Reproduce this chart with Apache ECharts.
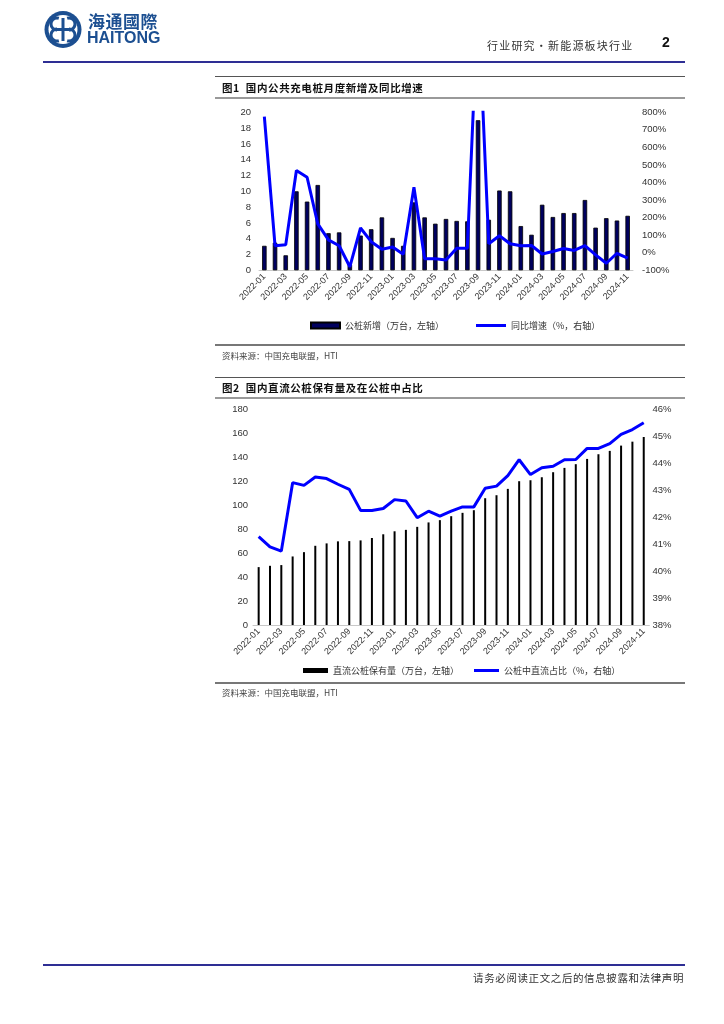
<!DOCTYPE html>
<html>
<head>
<meta charset="utf-8">
<script src="https://cdn.jsdelivr.net/npm/echarts@6/dist/echarts.min.js"></script>
<style>
  html,body{margin:0;padding:0;background:#fff;}
  #page{position:relative;width:724px;height:1024px;overflow:hidden;background:#fff;}
  #chart{position:absolute;left:0;top:0;width:724px;height:1024px;}
  .t{position:absolute;white-space:nowrap;font-family:"Noto Sans CJK SC","Noto Sans",sans-serif;color:#222;}
  .ln{position:absolute;}
</style>
</head>
<body>
<div id="page">
  <div id="chart"></div>
  <div class="t" style="left:88px;top:8px;font-size:17px;font-weight:bold;color:#1c4f91;letter-spacing:0.5px;">海通國際</div>
  <div class="t" style="left:87px;top:29px;font-size:16px;font-weight:bold;color:#1c4f91;font-family:'Liberation Sans',Arial,sans-serif;">HAITONG</div>
  <div class="t" style="left:487px;top:37px;font-size:11px;letter-spacing:1.2px;color:#333;">行业研究•新能源板块行业</div>
  <div class="t" style="left:662px;top:34px;font-size:14px;font-weight:bold;color:#111;font-family:'Liberation Sans',Arial,sans-serif;">2</div>
  <div class="ln" style="left:43px;top:61px;width:642px;height:2px;background:#2e2e94;"></div>

  <div class="ln" style="left:215px;top:76px;width:470px;height:1px;background:#555;"></div>
  <div class="t" style="left:222px;top:80px;font-size:10.5px;font-weight:bold;letter-spacing:0.6px;color:#111;">图1&nbsp;&nbsp;国内公共充电桩月度新增及同比增速</div>
  <div class="ln" style="left:215px;top:97px;width:470px;height:2px;background:#999;"></div>
  <div class="ln" style="left:215px;top:344px;width:470px;height:2px;background:#777;"></div>
  <div class="t" style="left:222px;top:349px;font-size:8.5px;color:#444;">资料来源：中国充电联盟，HTI</div>

  <div class="ln" style="left:215px;top:377px;width:470px;height:1px;background:#555;"></div>
  <div class="t" style="left:222px;top:380px;font-size:10.5px;font-weight:bold;letter-spacing:0.6px;color:#111;">图2&nbsp;&nbsp;国内直流公桩保有量及在公桩中占比</div>
  <div class="ln" style="left:215px;top:397px;width:470px;height:2px;background:#999;"></div>
  <div class="ln" style="left:215px;top:682px;width:470px;height:2px;background:#777;"></div>
  <div class="t" style="left:222px;top:686px;font-size:8.5px;color:#444;">资料来源：中国充电联盟，HTI</div>

  <div class="ln" style="left:43px;top:964px;width:642px;height:2px;background:#2e2e94;"></div>
  <div class="t" style="right:40px;top:970px;font-size:10.5px;letter-spacing:0.6px;color:#333;">请务必阅读正文之后的信息披露和法律声明</div>
</div>
<script>
// ---- Chart 1 data ----
const months = ["2022-01","2022-02","2022-03","2022-04","2022-05","2022-06","2022-07","2022-08","2022-09","2022-10","2022-11","2022-12",
  "2023-01","2023-02","2023-03","2023-04","2023-05","2023-06","2023-07","2023-08","2023-09","2023-10","2023-11","2023-12",
  "2024-01","2024-02","2024-03","2024-04","2024-05","2024-06","2024-07","2024-08","2024-09","2024-10","2024-11"];
const newPublicPiles = [3.1,3.5,1.9,10.0,8.7,10.8,4.7,4.8,0.7,4.4,5.2,6.7,
  4.1,3.1,8.6,6.7,5.9,6.5,6.25,6.2,19.0,6.4,10.1,10.0,
  5.6,4.5,8.3,6.75,7.25,7.25,8.9,5.4,6.6,6.3,6.9];
const yoyGrowth = [775,40,45,468,430,164,73,40,-80,141,63,20,
  33,-9,373,-34,-34,-41,26,26,1450,51,97,51,
  40,41,-7,7,24,13,40,-12,-60,-3,-31];
const leftTicks1 = {min:0, max:20, interval:2};
const rightTicks1 = {min:-100, max:800, interval:100};

// ---- Chart 2 data ----
const dcPileStock = [48.3,49.4,50.0,57.2,60.8,66.1,68.1,69.8,70.0,70.6,72.6,75.7,
  78.2,79.4,81.9,85.6,87.5,90.8,93.6,95.8,105.8,108.3,113.6,120.0,
  120.8,123.3,127.5,131.1,134.2,138.6,142.5,145.3,149.7,153.0,156.9];
const dcShare = [41.28,40.9,40.74,43.28,43.18,43.49,43.43,43.22,43.03,42.25,42.25,42.32,
  42.65,42.6,41.98,42.22,42.04,42.22,42.38,42.38,43.07,43.15,43.54,44.13,
  43.58,43.83,43.89,44.13,44.14,44.55,44.55,44.73,45.07,45.25,45.5];
const leftTicks2 = {min:0, max:180, interval:20};
const rightTicks2 = {min:38, max:46, interval:1};

const num = '"Liberation Sans", Arial, sans-serif';
const cjk = '"Noto Sans CJK SC", "Noto Sans", sans-serif';
const lblColor = '#333';

function catAxis(gridIndex){
  return {
    type:'category', gridIndex, data: months, boundaryGap:true,
    axisLine:{show:true, lineStyle:{color:'#c8c8c8', width:1}},
    axisTick:{show:false},
    axisLabel:{interval:1, rotate:45, margin:5, fontSize:9, color:lblColor, fontFamily:num}
  };
}
function valAxis(gridIndex, ticks, pos, margin, fmt){
  return {
    type:'value', gridIndex, position:pos, min:ticks.min, max:ticks.max, interval:ticks.interval,
    splitLine:{show:false}, axisLine:{show:false}, axisTick:{show:false},
    axisLabel:{margin, fontSize:9.5, color:lblColor, fontFamily:num, formatter: fmt || '{value}'}
  };
}

const chart = echarts.init(document.getElementById('chart'), null, {renderer:'canvas'});
const blue = '#1c4f91';
chart.setOption({
  animation:false,
  grid:[
    {left:259, width:374, top:112.3, height:158},
    {left:253, width:396.4, top:409.3, height:215.7}
  ],
  xAxis:[catAxis(0), catAxis(1)],
  yAxis:[
    valAxis(0, leftTicks1, 'left', 8),
    valAxis(0, rightTicks1, 'right', 9, '{value}%'),
    valAxis(1, leftTicks2, 'left', 5),
    valAxis(1, rightTicks2, 'right', 3, '{value}%')
  ],
  legend:[
    {data:['公桩新增（万台，左轴）'], left:305, top:316, itemWidth:29, itemHeight:6, icon:'rect',
     textStyle:{fontSize:9, color:'#333', fontFamily:cjk}},
    {data:['同比增速（%，右轴）'], left:471, top:316, itemWidth:30, itemHeight:3, icon:'rect',
     textStyle:{fontSize:9, color:'#333', fontFamily:cjk}},
    {data:['直流公桩保有量（万台，左轴）'], left:298, top:661, itemWidth:25, itemHeight:5, icon:'rect',
     textStyle:{fontSize:9, color:'#333', fontFamily:cjk}},
    {data:['公桩中直流占比（%，右轴）'], left:469, top:661, itemWidth:25, itemHeight:3, icon:'rect',
     textStyle:{fontSize:9, color:'#333', fontFamily:cjk}}
  ],
  series:[
    {name:'公桩新增（万台，左轴）', type:'bar', xAxisIndex:0, yAxisIndex:0, data:newPublicPiles,
     barWidth:4.5, itemStyle:{color:'#00005e', borderColor:'#000', borderWidth:0.8}},
    {name:'同比增速（%，右轴）', type:'line', xAxisIndex:0, yAxisIndex:1, data:yoyGrowth,
     symbol:'none', clip:true, color:'#0000ff', lineStyle:{color:'#0000ff', width:3}, z:5},
    {name:'直流公桩保有量（万台，左轴）', type:'bar', xAxisIndex:1, yAxisIndex:2, data:dcPileStock,
     barWidth:2, itemStyle:{color:'#000'}},
    {name:'公桩中直流占比（%，右轴）', type:'line', xAxisIndex:1, yAxisIndex:3, data:dcShare,
     symbol:'none', color:'#0000ff', lineStyle:{color:'#0000ff', width:3}, z:5}
  ],
  graphic:[
    {type:'circle', shape:{cx:63, cy:29.5, r:18.5}, style:{fill:blue}},
    {type:'circle', shape:{cx:63, cy:29.5, r:14.5}, style:{fill:'#fff'}},
    {type:'arc', shape:{cx:57, cy:24, r:6, startAngle:Math.PI*0.5, endAngle:Math.PI*1.6}, style:{stroke:blue, lineWidth:3, fill:null}},
    {type:'arc', shape:{cx:69, cy:24, r:6, startAngle:-Math.PI*0.6, endAngle:Math.PI*0.5}, style:{stroke:blue, lineWidth:3, fill:null}},
    {type:'arc', shape:{cx:57, cy:35, r:6, startAngle:Math.PI*0.4, endAngle:Math.PI*1.5}, style:{stroke:blue, lineWidth:3, fill:null}},
    {type:'arc', shape:{cx:69, cy:35, r:6, startAngle:-Math.PI*0.5, endAngle:Math.PI*0.6}, style:{stroke:blue, lineWidth:3, fill:null}},
    {type:'rect', shape:{x:61.5, y:18, width:3, height:23}, style:{fill:blue}},
    {type:'rect', shape:{x:52, y:28, width:22, height:3}, style:{fill:blue}}
  ]
});
</script>
</body>
</html>
